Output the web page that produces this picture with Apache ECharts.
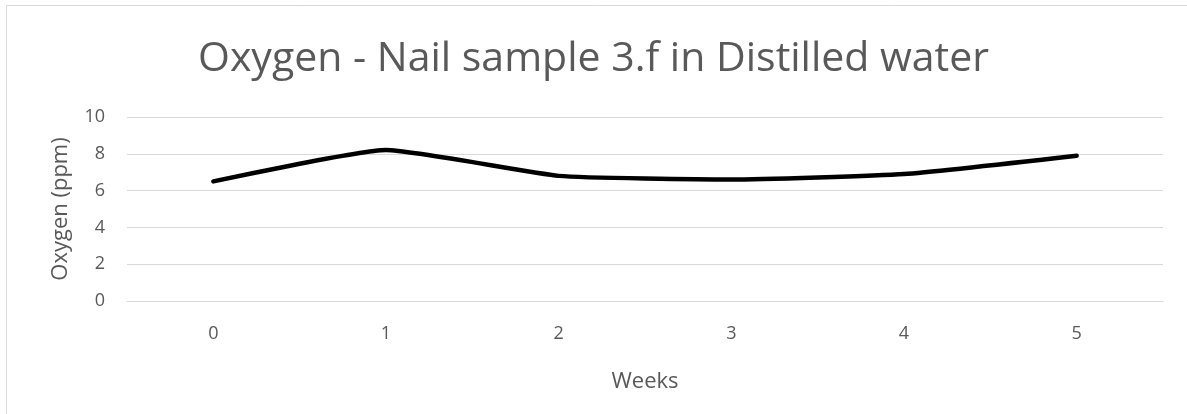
<!DOCTYPE html>
<html>
<head>
<meta charset="utf-8">
<script src="https://cdn.jsdelivr.net/npm/echarts@6/dist/echarts.min.js"></script>
<style>
  html, body { margin: 0; padding: 0; background: #fff; }
  #chart { width: 1187px; height: 414px; }
</style>
</head>
<body>
<div id="chart"></div>
<script>
// Dissolved oxygen readings per week
const weeks = ['0', '1', '2', '3', '4', '5'];
const oxygen = [6.5, 8.2, 6.8, 6.6, 6.9, 7.9];
const yTicks = { min: 0, max: 10, interval: 2 };

const textColor = '#595959';
const font = '"Open Sans", "Liberation Sans", sans-serif';

const chart = echarts.init(document.getElementById('chart'), null, { renderer: 'canvas' });
chart.setOption({
  animation: false,
  backgroundColor: '#fff',
  graphic: [{
    type: 'rect',
    shape: { x: 6.5, y: 5.5, width: 1200, height: 420 },
    style: { fill: 'none', stroke: '#d9d9d9', lineWidth: 1 },
    silent: true
  }],
  title: {
    text: 'Oxygen - Nail sample 3.f in Distilled water',
    left: 'center',
    top: 34,
    textStyle: { color: textColor, fontFamily: font, fontWeight: 'normal', fontSize: 41 }
  },
  grid: { left: 127, right: 24, top: 117, bottom: 113 },
  xAxis: {
    type: 'category',
    data: weeks,
    boundaryGap: true,
    name: 'Weeks',
    nameLocation: 'middle',
    nameGap: 70,
    nameTextStyle: { color: textColor, fontFamily: font, fontSize: 22 },
    axisLine: { show: true, lineStyle: { color: '#d9d9d9', width: 1 } },
    axisTick: { show: false },
    axisLabel: { color: textColor, fontFamily: font, fontSize: 18, margin: 24 }
  },
  yAxis: {
    type: 'value',
    min: yTicks.min,
    max: yTicks.max,
    interval: yTicks.interval,
    name: 'Oxygen (ppm)',
    nameLocation: 'middle',
    nameGap: 55,
    nameTextStyle: { color: textColor, fontFamily: font, fontSize: 22 },
    axisLine: { show: false },
    axisTick: { show: false },
    axisLabel: { color: textColor, fontFamily: font, fontSize: 18, margin: 22 },
    splitLine: { lineStyle: { color: '#d9d9d9', width: 1 } }
  },
  series: [{
    type: 'line',
    data: oxygen,
    smooth: 0.15,
    symbol: 'none',
    lineStyle: { color: '#000', width: 4.5, cap: 'round', join: 'round' }
  }]
});
</script>
</body>
</html>
